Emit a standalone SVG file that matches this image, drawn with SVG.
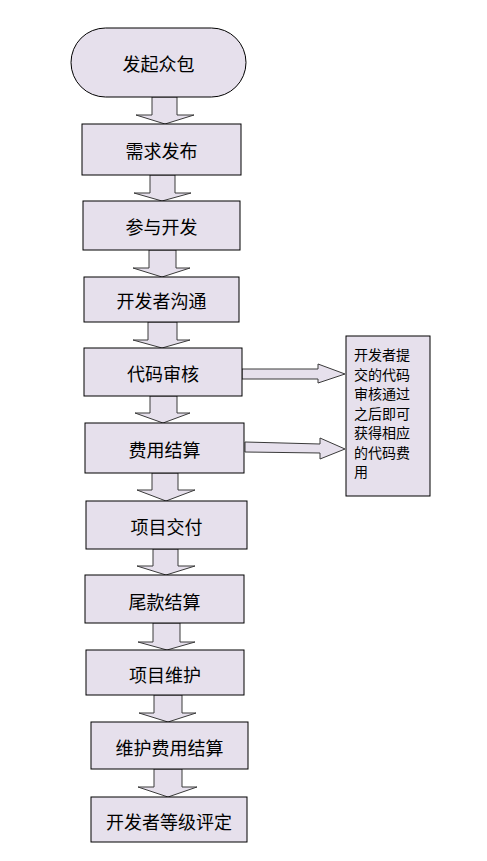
<svg xmlns="http://www.w3.org/2000/svg" width="487" height="861" viewBox="0 0 487 861">
<style>
.n{fill:#E6E0EC;stroke:#000;stroke-width:1}
.a{fill:#E6E0EC;stroke:#3a3a3a;stroke-width:1}
.t{font-family:"Noto Sans CJK SC","Noto Sans",sans-serif;font-size:18px;fill:#000;text-anchor:middle;dominant-baseline:central}
.s{font-family:"Noto Sans CJK SC","Noto Sans",sans-serif;font-size:14px;fill:#000;dominant-baseline:central}
</style>
<rect width="487" height="861" fill="#fff"/>
<g id="connectors">
<polygon class="a" points="152,97 177,97 177,115 194,115 165,124 136,115 152,115"/>
<polygon class="a" points="150,175 175,175 175,193 191,193 162,201 134,193 150,193"/>
<polygon class="a" points="149,250 176,250 176,268 190,268 162,277 133,268 149,268"/>
<polygon class="a" points="148,322 177,322 177,340 190,340 162,348 133,340 148,340"/>
<polygon class="a" points="150,396 177,396 177,413 190,413 163,423 135,413 150,413"/>
<polygon class="a" points="152,473 178,473 178,490 195,490 166,501 137,490 152,490"/>
<polygon class="a" points="153,549 178,549 178,566 195,566 166,575 137,566 153,566"/>
<polygon class="a" points="153,623 180,623 180,642 195,642 167,650 138,642 153,642"/>
<polygon class="a" points="154,695 182,695 182,713 196,713 168,722 139,713 154,713"/>
<polygon class="a" points="154,769 182,769 182,787 197,787 168,797 138,787 154,787"/>
<polygon class="a" points="242,369 318,369 318,364 345,374 318,383 318,379 242,379"/>
<polygon class="a" points="245,442 320,444 320,438 345,449 320,459 320,453 245,452"/>
</g>
<g id="start"><rect class="n" x="71" y="28" width="175" height="69" rx="34.5" ry="34.5"/><text class="t" x="158.5" y="63">发起众包</text></g>
<g id="n1"><rect class="n" x="82" y="124" width="159" height="51"/><text class="t" x="161.5" y="150">需求发布</text></g>
<g id="n2"><rect class="n" x="83" y="201" width="157" height="49"/><text class="t" x="161.5" y="226">参与开发</text></g>
<g id="n3"><rect class="n" x="84" y="277" width="155" height="45"/><text class="t" x="161.5" y="300">开发者沟通</text></g>
<g id="n4"><rect class="n" x="84" y="348" width="158" height="48"/><text class="t" x="163" y="373">代码审核</text></g>
<g id="n5"><rect class="n" x="85" y="423" width="159" height="50"/><text class="t" x="164.5" y="449">费用结算</text></g>
<g id="n6"><rect class="n" x="86" y="501" width="161" height="48"/><text class="t" x="166.5" y="526">项目交付</text></g>
<g id="n7"><rect class="n" x="85" y="575" width="159" height="48"/><text class="t" x="164.5" y="601">尾款结算</text></g>
<g id="n8"><rect class="n" x="86" y="650" width="158" height="45"/><text class="t" x="165" y="674">项目维护</text></g>
<g id="n9"><rect class="n" x="91" y="722" width="157" height="47"/><text class="t" x="169.5" y="747">维护费用结算</text></g>
<g id="n10"><rect class="n" x="91" y="797" width="156" height="45"/><text class="t" x="169" y="821">开发者等级评定</text></g>
<g id="note"><rect class="n" x="346" y="336" width="84" height="160"/>
<text class="s" x="354" y="354">开发者提</text>
<text class="s" x="354" y="373.5">交的代码</text>
<text class="s" x="354" y="393">审核通过</text>
<text class="s" x="354" y="412.5">之后即可</text>
<text class="s" x="354" y="432">获得相应</text>
<text class="s" x="354" y="451.5">的代码费</text>
<text class="s" x="354" y="471">用</text>
</g>
</svg>
